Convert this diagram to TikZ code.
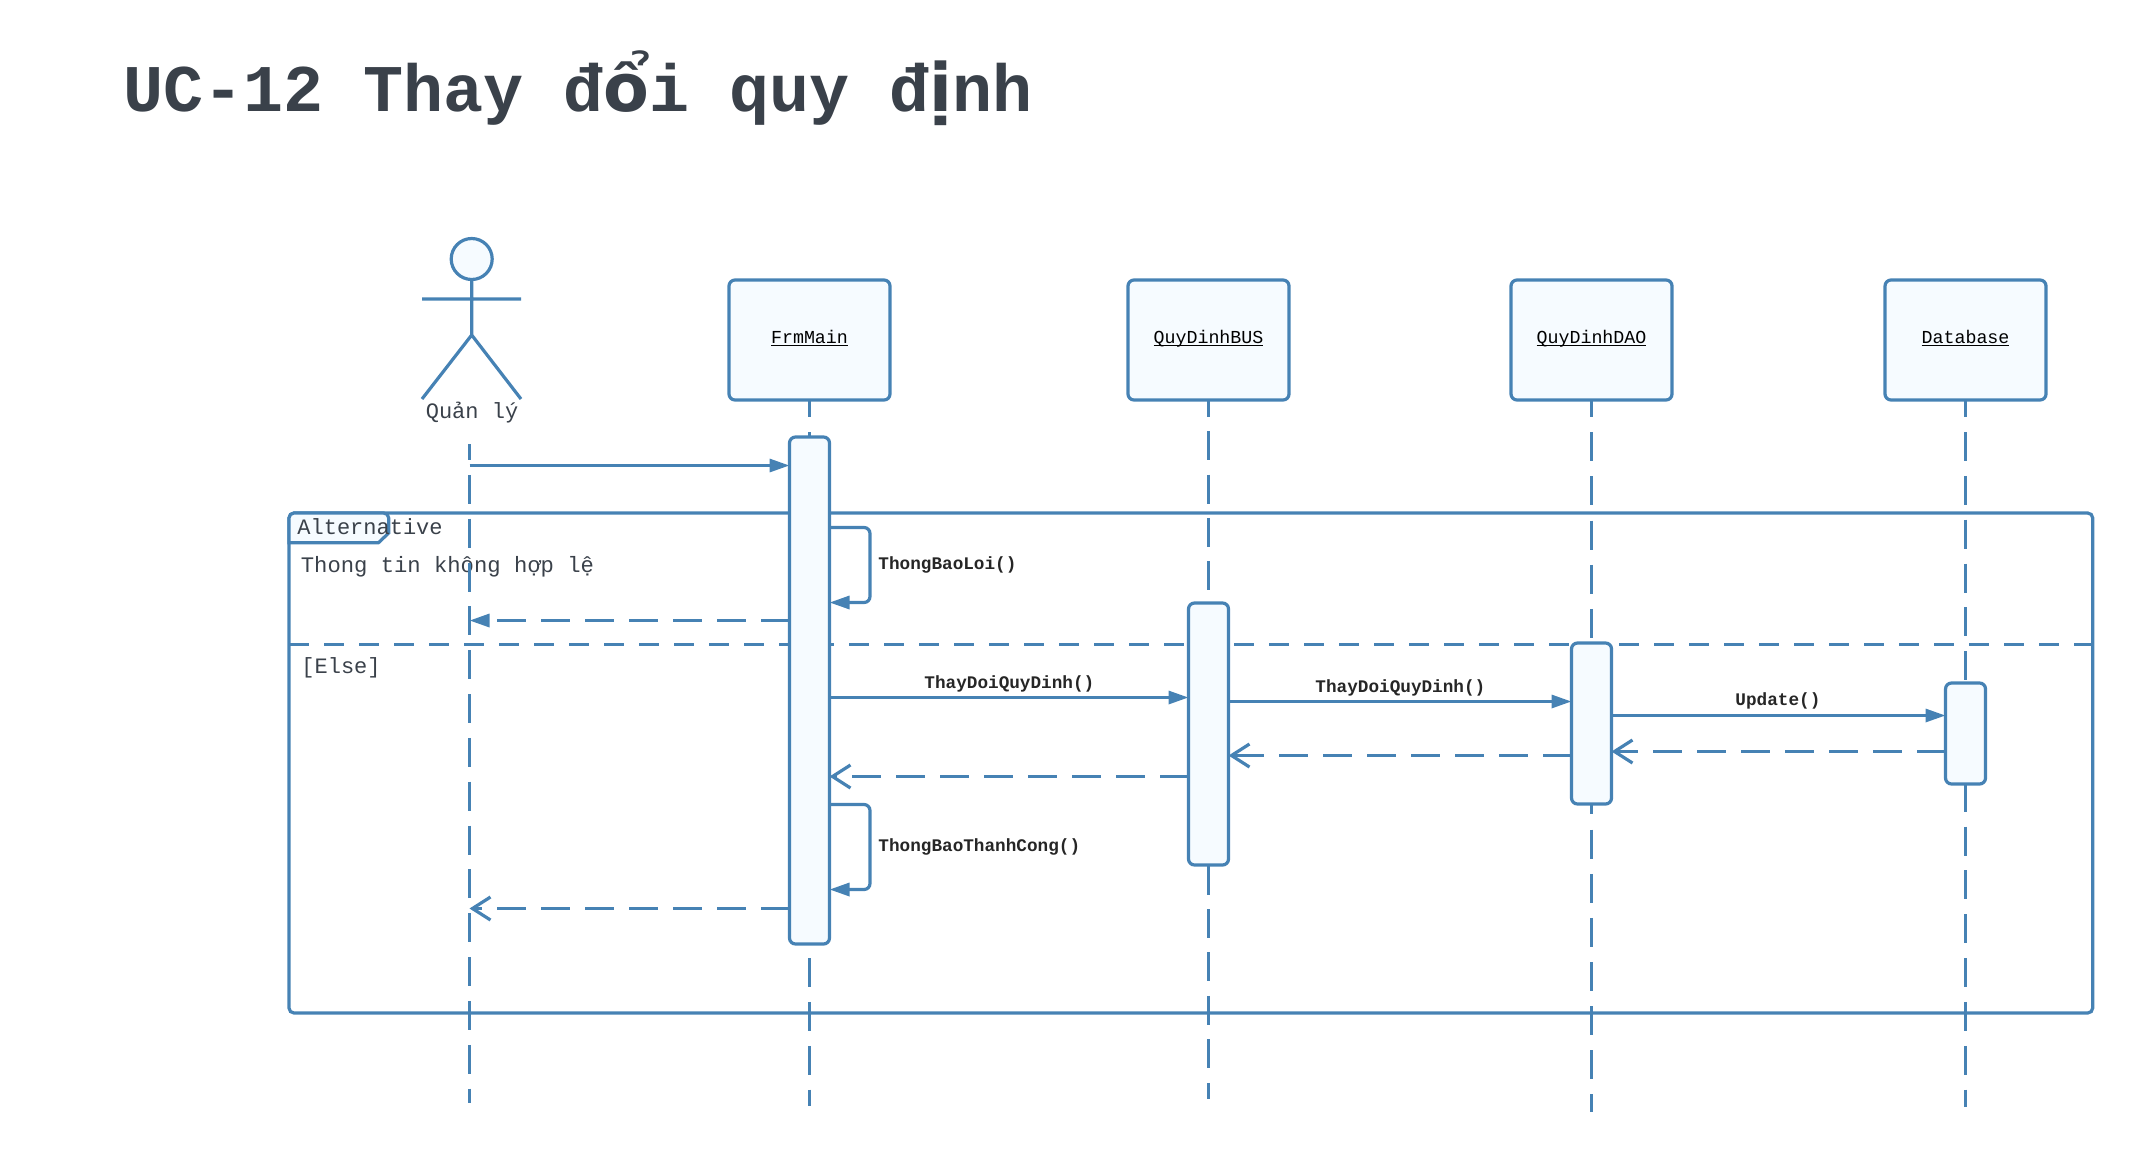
\documentclass[tikz,border=0pt]{standalone}
\usepackage{fontspec}
\setmainfont{Liberation Mono}
\newfontfamily\fallbackfont{DejaVu Sans}
\usetikzlibrary{arrows.meta}
\definecolor{lineblue}{HTML}{4682B4}
\definecolor{paleblue}{HTML}{F6FBFF}
\definecolor{slatetext}{HTML}{3A414A}
\definecolor{msgtext}{HTML}{262626}
\newcommand{\ulname}[1]{\underline{\smash{#1}}}
\tikzset{
  classbox/.style={draw=lineblue,fill=paleblue,line width=1.6pt,rounded corners=3pt,minimum width=80.5pt,minimum height=60pt,inner sep=0pt,outer sep=0pt,text=black,text height=3pt,text depth=0pt,font=\fontsize{9.15}{11}\selectfont},
  actbox/.style={draw=lineblue,fill=paleblue,line width=1.6pt,rounded corners=3pt,minimum width=20pt,inner sep=0pt,outer sep=0pt},
  lifeline/.style={draw=lineblue,line width=1.6pt,dash pattern=on 14.5pt off 7.42pt,dash phase=5.9pt},
  msgline/.style={draw=lineblue,line width=1.6pt,-{Triangle[length=10pt,width=6.5pt]}},
  backfull/.style={draw=lineblue,line width=1.6pt,dash pattern=on 14.5pt off 7.5pt,-{Triangle[length=10pt,width=6.5pt]}},
  backopen/.style={draw=lineblue,line width=1.6pt,dash pattern=on 14.5pt off 7.5pt,-{Straight Barb[length=9pt,width=11.5pt]}},
  msglabel/.style={anchor=base west,inner sep=0pt,text=msgtext,font=\fontsize{8.85}{10}\selectfont\bfseries},
  frametext/.style={anchor=base west,inner sep=0pt,text=slatetext,font=\fontsize{11}{13}\selectfont},
}
\begin{document}
\begin{tikzpicture}[x=0.5pt,y=-0.5pt]
	\useasboundingbox (0,0) rectangle (2134,1152);
	\node[anchor=base west,inner sep=0pt,text=slatetext,font=\fontsize{33.35}{38}\selectfont\bfseries] (title) at (123,111) {UC-12 Thay đ{\fallbackfont ổ}i quy đ{\fallbackfont ị}nh};
	% Khung Alternative
	\node[draw=lineblue,line width=1.6pt,rounded corners=2.5pt,minimum width=901.85pt,minimum height=250pt,inner sep=0pt,outer sep=0pt] (altFrame) at (1190.85,763) {};
	\draw[draw=lineblue,fill=paleblue,line width=1.6pt] (289,528) [rounded corners=2.5pt] -- (altFrame.north west) -- (388.7,513) [sharp corners] -- (388.7,533) -- (378.5,542.7) -- (289,542.7) -- cycle;
	\draw[draw=lineblue,line width=1.6pt,dash pattern=on 10pt off 7.5pt] (altFrame.west |- 0,644.5) -- (altFrame.east |- 0,644.5);
	\node[frametext] (altTag) at (297,534) {Alternative};
	\node[frametext,font=\fontsize{11.1}{13}\selectfont] (altGuard) at (300.5,572) {Thong tin không hợp lệ};
	\node[frametext] (elseGuard) at (301,673) {[Else]};
	% Actor
	\node[circle,draw=lineblue,fill=paleblue,line width=1.6pt,minimum size=20.5pt,inner sep=0pt,outer sep=0pt] (qlHead) at (471.7,259) {};
	\draw[draw=lineblue,line width=1.6pt] (qlHead.south) -- (471.7,335) (422,299) -- (521,299) (422,399) -- (471.7,335) -- (521,399);
	\node[anchor=base,inner sep=0pt,text=slatetext,font=\fontsize{11}{13}\selectfont] (qlName) at (472,418) {Quản lý};
	% Cac doi tuong
	\node[classbox] (frmMain) at (809.5,340) {\ulname{FrmMain}};
	\node[classbox] (quyDinhBus) at (1208.5,340) {\ulname{QuyDinhBUS}};
	\node[classbox] (quyDinhDao) at (1591.5,340) {\ulname{QuyDinhDAO}};
	\node[classbox] (database) at (1965.5,340) {\ulname{Database}};
	% Lifeline
	\coordinate (qlTop) at (469.5,444);
	\draw[lifeline,dash phase=6.5pt] (qlTop) -- (qlTop |- 0,1103);
	\draw[lifeline] (frmMain.south) -- (frmMain.south |- 0,1106);
	\draw[lifeline,dash pattern=on 14.5pt off 7.225pt,dash phase=6.2pt] (quyDinhBus.south) -- (quyDinhBus.south |- 0,1099);
	\draw[lifeline,dash pattern=on 14.5pt off 7.57pt] (quyDinhDao.south) -- (quyDinhDao.south |- 0,1112);
	\draw[lifeline] (database.south) -- (database.south |- 0,1107);
	% Activation
	\node[actbox,minimum height=253.5pt] (frmAct) at (809.5,690.5) {};
	\node[actbox,minimum height=131pt] (busAct) at (1208.5,734) {};
	\node[actbox,minimum height=80.5pt] (daoAct) at (1591.5,723.5) {};
	\node[actbox,minimum height=50.5pt] (dbAct) at (1965.5,733.5) {};
	% Message
	\draw[msgline] (qlTop |- 0,465.5) -- (frmAct.west |- 0,465.5);
	\draw[msgline,rounded corners=3pt] (frmAct.east |- 0,527.5) -| (870,602.5) -- (frmAct.east |- 0,602.5);
	\node[msglabel] (loiLabel) at (878,569) {ThongBaoLoi()};
	\draw[backfull] (frmAct.west |- 0,620.5) -- (qlTop |- 0,620.5);
	\draw[msgline] (frmAct.east |- 0,697.5) -- (busAct.west |- 0,697.5);
	\node[msglabel] (busLabel) at (924,688) {ThayDoiQuyDinh()};
	\draw[msgline] (busAct.east |- 0,701.5) -- (daoAct.west |- 0,701.5);
	\node[msglabel] (daoLabel) at (1315,692) {ThayDoiQuyDinh()};
	\draw[msgline] (daoAct.east |- 0,715.5) -- (dbAct.west |- 0,715.5);
	\node[msglabel] (updateLabel) at (1735,705) {Update()};
	\draw[backopen] (dbAct.west |- 0,751.5) -- (daoAct.east |- 0,751.5);
	\draw[backopen] (daoAct.west |- 0,755.5) -- (busAct.east |- 0,755.5);
	\draw[backopen] (busAct.west |- 0,776.5) -- (frmAct.east |- 0,776.5);
	\draw[msgline,rounded corners=3pt] (frmAct.east |- 0,804.5) -| (870,889.5) -- (frmAct.east |- 0,889.5);
	\node[msglabel] (congLabel) at (878,851) {ThongBaoThanhCong()};
	\draw[backopen] (frmAct.west |- 0,908.5) -- (qlTop |- 0,908.5);
\end{tikzpicture}
\end{document}
